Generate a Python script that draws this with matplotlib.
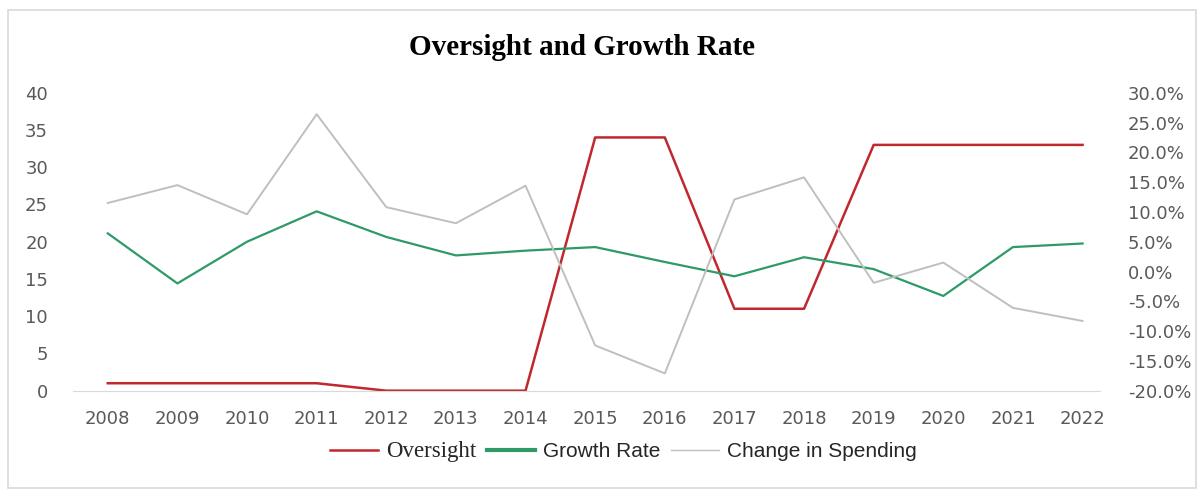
import matplotlib.pyplot as plt
from matplotlib.ticker import FuncFormatter
from matplotlib.patches import Rectangle

years = [2008, 2009, 2010, 2011, 2012, 2013, 2014, 2015,
         2016, 2017, 2018, 2019, 2020, 2021, 2022]
oversight = [1, 1, 1, 1, 0, 0, 0, 34, 34, 11, 11, 33, 33, 33, 33]
growth_rate = [6.4, -2.0, 5.0, 10.1, 5.8, 2.7, 3.5, 4.1,
               1.6, -0.8, 2.4, 0.4, -4.1, 4.1, 4.7]
change_spending = [11.5, 14.5, 9.6, 26.4, 10.8, 8.1, 14.4, -12.4,
                   -17.1, 12.1, 15.8, -1.9, 1.5, -6.1, -8.3]

tick_color = "#595959"

fig = plt.figure(figsize=(12.04, 4.9), dpi=100)
fig.patches.append(Rectangle((8 / 1204, 2 / 490), 1188 / 1204, 478 / 490,
                             transform=fig.transFigure, fill=False,
                             edgecolor="#d9d9d9", linewidth=1.2))

ax = fig.add_axes([0.0606, 0.2027, 0.853, 0.608])
ax2 = ax.twinx()

l1, = ax.plot(years, oversight, color="#c0282d", linewidth=1.8, label="Oversight")
l2, = ax2.plot(years, growth_rate, color="#2e9a68", linewidth=1.6, label="Growth Rate")
l3, = ax2.plot(years, change_spending, color="#bfbfbf", linewidth=1.4,
               label="Change in Spending")

ax.set_xlim(2007.5, 2022.25)
ax.set_ylim(0, 40)
ax.set_yticks(range(0, 41, 5))
ax2.set_ylim(-20, 30)
ax2.set_yticks(range(-20, 31, 5))
ax2.yaxis.set_major_formatter(FuncFormatter(lambda v, p: f"{v:.1f}%"))
ax.set_xticks(years)

for a in (ax, ax2):
    for s in a.spines.values():
        s.set_visible(False)
    a.tick_params(length=0, colors=tick_color, labelsize=13)
ax.spines["bottom"].set_visible(True)
ax.spines["bottom"].set_color("#d9d9d9")
ax.tick_params(axis="x", pad=14)
ax.tick_params(axis="y", pad=18)
ax2.tick_params(axis="y", pad=20)

fig.text(0.483, 0.903, "Oversight and Growth Rate", ha="center", va="center",
         fontsize=21, fontweight="bold", family="Liberation Serif")

leg = fig.legend(handles=[l1, l2, l3], loc="center", bbox_to_anchor=(0.518, 0.078),
                 ncol=3, frameon=False, fontsize=15, handlelength=2.3,
                 columnspacing=0.5, handletextpad=0.4)
leg.get_lines()[1].set_linewidth(3)
leg.get_lines()[2].set_linewidth(1)
for i, t in enumerate(leg.get_texts()):
    t.set_color("#262626")
    if i == 0:
        t.set_family("Liberation Serif")
        t.set_fontsize(16.5)
    else:
        t.set_family("Liberation Sans")

fig.savefig("out.png", dpi=100)
